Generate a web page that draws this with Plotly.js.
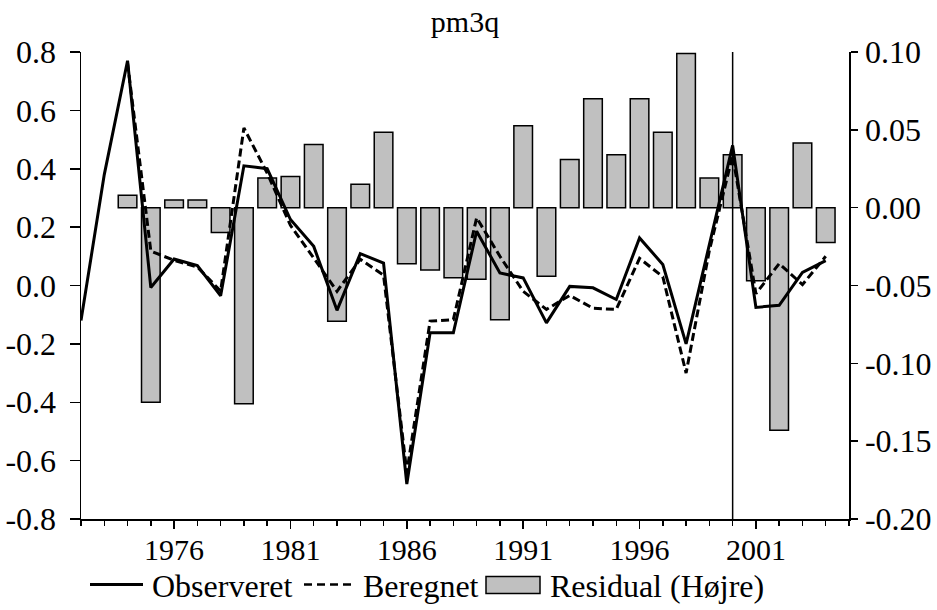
<!DOCTYPE html>
<html>
<head>
<meta charset="utf-8">
<script src="https://cdn.plot.ly/plotly-3.0.1.min.js"></script>
<style>html,body{margin:0;padding:0;background:#fff}#chart{width:937px;height:610px}</style>
</head>
<body>
<div id="chart"></div>
<script>
var years = [1972,1973,1974,1975,1976,1977,1978,1979,1980,1981,1982,1983,1984,1985,1986,1987,1988,1989,1990,1991,1992,1993,1994,1995,1996,1997,1998,1999,2000,2001,2002,2003,2004];
var observeret = [-0.12,0.38,0.77,-0.007,0.091,0.068,-0.035,0.41,0.40,0.226,0.134,-0.085,0.109,0.077,-0.68,-0.162,-0.162,0.186,0.043,0.026,-0.128,-0.003,-0.008,-0.048,0.163,0.072,-0.20,0.14,0.48,-0.075,-0.068,0.045,0.085];
var fitYears = [1974,1975,1976,1977,1978,1979,1980,1981,1982,1983,1984,1985,1986,1987,1988,1989,1990,1991,1992,1993,1994,1995,1996,1997,1998,1999,2000,2001,2002,2003,2004];
var beregnet = [0.762,0.118,0.086,0.063,-0.019,0.54,0.385,0.206,0.094,-0.02,0.09,0.035,-0.64,-0.122,-0.117,0.232,0.10,-0.02,-0.082,-0.034,-0.078,-0.082,0.093,0.03,-0.30,0.12,0.446,-0.028,0.075,0.003,0.10];
var residual = [0.008,-0.125,0.005,0.005,-0.016,-0.126,0.019,0.020,0.0405,-0.073,0.015,0.0485,-0.036,-0.040,-0.045,-0.046,-0.072,0.0527,-0.044,0.031,0.070,0.034,0.070,0.0485,0.099,0.019,0.034,-0.047,-0.143,0.0416,-0.0223];
var leftTicks = [-0.8,-0.6,-0.4,-0.2,0,0.2,0.4,0.6,0.8];
var leftTickText = ['-0.8','-0.6','-0.4','-0.2','0.0','0.2','0.4','0.6','0.8'];
var rightTicks = [-0.20,-0.15,-0.10,-0.05,0,0.05,0.10];
var rightTickText = ['-0.20','-0.15','-0.10','-0.05','0.00','0.05','0.10'];
var xTicks = [1976,1981,1986,1991,1996,2001];
var markerYear = 2000;
var seriesNames = ['Observeret', 'Beregnet', 'Residual (Højre)'];

var FONT = 'Liberation Serif, Times New Roman, serif';
var FS = 32;

var traces = [
  {x: fitYears, y: residual, type: 'bar', name: seriesNames[2], yaxis: 'y',
   marker: {color: '#c0c0c0', line: {color: '#000', width: 1.5}}, width: 0.8},
  {x: years, y: observeret, type: 'scatter', mode: 'lines', name: seriesNames[0], yaxis: 'y2',
   line: {color: '#000', width: 3}},
  {x: fitYears, y: beregnet, type: 'scatter', mode: 'lines', name: seriesNames[1], yaxis: 'y2',
   line: {color: '#000', width: 3, dash: '8px,4px'}}
];

// manual legend (paper coordinates)
var W = 768, H = 467.3, L = 81, B = 519.5;
function px(x) { return (x - L) / W; }
function py(y) { return (B - y) / H; }
var legY = 587;
var shapes = [
  {type: 'line', xref: 'x', yref: 'paper', x0: markerYear, x1: markerYear, y0: 0, y1: 1, line: {color: '#000', width: 1.5}},
  {type: 'line', xref: 'paper', yref: 'paper', x0: px(90), x1: px(143), y0: py(legY - 2), y1: py(legY - 2), line: {color: '#000', width: 3}},
  {type: 'line', xref: 'paper', yref: 'paper', x0: px(304), x1: px(354), y0: py(legY - 2), y1: py(legY - 2), line: {color: '#000', width: 2.5, dash: '8px,5px'}},
  {type: 'rect', xref: 'paper', yref: 'paper', x0: px(486), x1: px(540), y0: py(594), y1: py(577), fillcolor: '#c0c0c0', line: {color: '#000', width: 1.5}}
];
var annotations = [
  {text: seriesNames[0], xref: 'paper', yref: 'paper', x: px(151), y: py(legY), xanchor: 'left', yanchor: 'middle', showarrow: false, borderpad: 0, font: {family: FONT, size: FS, color: '#000'}},
  {text: seriesNames[1], xref: 'paper', yref: 'paper', x: px(362), y: py(legY), xanchor: 'left', yanchor: 'middle', showarrow: false, borderpad: 0, font: {family: FONT, size: FS, color: '#000'}},
  {text: seriesNames[2], xref: 'paper', yref: 'paper', x: px(549), y: py(legY), xanchor: 'left', yanchor: 'middle', showarrow: false, borderpad: 0, font: {family: FONT, size: FS, color: '#000'}}
];

var layout = {
  width: 937, height: 610,
  margin: {l: 81, r: 88, t: 52, b: 91, pad: 0},
  paper_bgcolor: '#fff', plot_bgcolor: '#fff',
  font: {family: FONT, size: FS, color: '#000'},
  title: {text: 'pm3q', font: {family: FONT, size: 30, color: '#000'}, x: 0.5, xref: 'paper', xanchor: 'center', y: 0.965, yanchor: 'middle'},
  showlegend: false,
  bargap: 0.2,
  xaxis: {range: [1972, 2005], showgrid: false, zeroline: false, showline: true, linecolor: '#000', linewidth: 1.5,
          tickmode: 'array', tickvals: xTicks, ticktext: xTicks.map(String), ticks: 'outside', ticklen: 8, tickwidth: 1.5, tickcolor: '#000',
          ticklabelstandoff: -5,
          minor: {dtick: 1, tick0: 1972, ticks: 'outside', ticklen: 5, tickwidth: 1.5, tickcolor: '#000', showgrid: false},
          tickfont: {family: FONT, size: 30}, fixedrange: true},
  yaxis: {range: [-0.2, 0.1], side: 'right', showgrid: false, zeroline: false, showline: true, linecolor: '#000', linewidth: 1.5,
          tickmode: 'array', tickvals: rightTicks, ticktext: rightTickText, ticks: 'outside', ticklen: 7, tickwidth: 1.5, tickcolor: '#000',
          ticklabelstandoff: 1,
          tickfont: {family: FONT, size: FS}},
  yaxis2: {range: [-0.8, 0.8], side: 'left', overlaying: 'y', showgrid: false, zeroline: false, showline: true, linecolor: '#000', linewidth: 1.5,
          tickmode: 'array', tickvals: leftTicks, ticktext: leftTickText, ticks: 'outside', ticklen: 10, tickwidth: 1.5, tickcolor: '#000',
          ticklabelstandoff: 7,
          tickfont: {family: FONT, size: FS}},
  shapes: shapes,
  annotations: annotations
};

Plotly.newPlot('chart', traces, layout, {displayModeBar: false, staticPlot: true});
</script>
</body>
</html>
